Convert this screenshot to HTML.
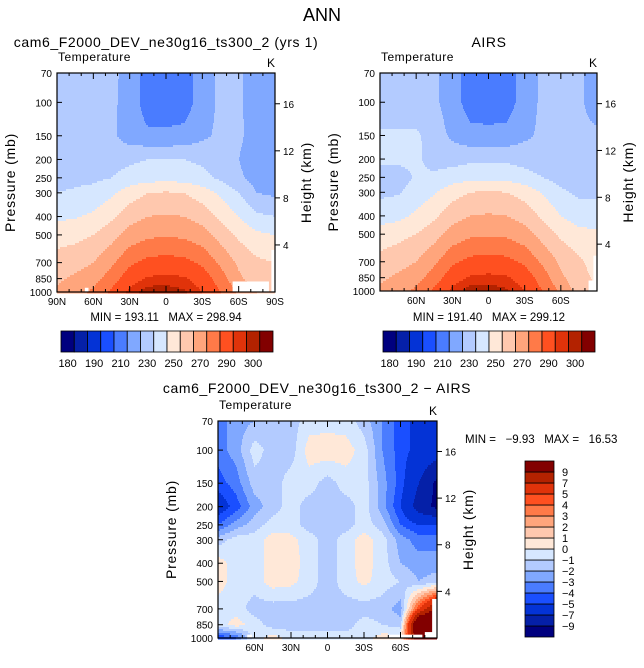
<!DOCTYPE html>
<html><head><meta charset="utf-8">
<style>
body{margin:0;background:#fff;}
svg text{font-family:"Liberation Sans",sans-serif;fill:#000;white-space:pre;}
</style></head>
<body>
<svg id="s" width="644" height="663" viewBox="0 0 644 663" xmlns="http://www.w3.org/2000/svg">
<text x="322" y="21" font-size="18" text-anchor="middle">ANN</text>
<text x="166" y="47" font-size="14" letter-spacing="0.6" text-anchor="middle">cam6_F2000_DEV_ne30g16_ts300_2 (yrs 1)</text>
<text x="489" y="47" font-size="14" letter-spacing="0.6" text-anchor="middle">AIRS</text>
<text x="317" y="393" font-size="14" letter-spacing="0.6" text-anchor="middle">cam6_F2000_DEV_ne30g16_ts300_2 − AIRS</text>
<g id="plots"></g>
</svg>
<script>
// ---- data ----
const lats = [90,75,60,45,30,15,0,-15,-30,-45,-60,-75,-90];
const pLevels = [70,100,150,200,250,300,400,500,700,850,1000];
const modelT = [
[222,222,222,222,217,205,203,205,215,222,222,214,214],
[222,222,222,222,216,205,204,205,215,222,222,214,214],
[222,222,222,222,215,212,212,213,218,222,222,215,213],
[225,225,225,226,228,230,230,230,228,224,220,214,214],
[228,228,228,230,234,236,236,236,233,228,222,216,216],
[230,231,233,238,245,250,251,250,245,238,230,220,218],
[238,239,242,248,256,260,261,260,256,248,240,232,230],
[246,247,250,256,264,268,269,268,264,256,248,242,240],
[254,256,260,268,278,283,284,283,278,268,258,252,250],
[258,262,266,275,286,291,292,291,286,275,262,255,253],
[262,266,272,282,292,298,298,296,290,280,268,260,258]];
const airsT = [
[222,222,222,222,215,205,203,205,215,222,222,222,215],
[222,222,222,222,215,205,204,205,215,222,222,222,215],
[232,232,232,225,218,213,213,213,218,222,222,222,222],
[232,232,232,226,226,228,228,228,226,224,223,223,223],
[226,226,231,232,235,237,237,237,234,230,226,225,225],
[228,229,234,239,246,250,251,250,246,239,232,228,228],
[235,237,242,248,256,260,261,260,256,248,240,235,235],
[245,247,250,256,264,268,269,268,264,256,248,243,242],
[253,256,260,268,278,283,284,283,278,268,258,252,245],
[258,262,266,275,286,291,292,291,286,275,262,254,248],
[262,266,272,282,292,298,298,296,290,280,268,255,250]];
const diffT = [
[-3.5,-2.5,-2,-1.5,-1.5,-0.5,-0.5,-0.5,-1.5,-3,-4.5,-5.5,-6],
[-3.5,-2.5,-0.5,-1.5,-1.5,0.5,0.7,0.5,-0.5,-3,-4.5,-5.5,-6],
[-4.5,-3.5,-1.5,-1.5,-0.5,-0.5,-1.5,-0.5,-0.5,-2.5,-4.5,-7,-9.5],
[-6,-4.5,-2.5,-1.5,-0.5,-1.5,-1.5,-1.5,-0.5,-2.5,-5,-8,-9.5],
[-4,-2.5,-1.5,-0.5,-0.5,-1.5,-1.5,-1.5,-0.5,-1.5,-4,-5,-5],
[-1.5,-0.5,-0.5,0.5,0.3,-0.5,-1.5,-0.5,0.5,-0.5,-2.5,-3.5,-3.5],
[0.5,-0.5,-0.5,0.5,0.5,-0.5,-1.5,-0.5,0.5,-0.5,-2,-2.5,-2.5],
[0.5,-0.5,-0.5,0.5,0.3,-0.5,-1.5,-0.5,0.3,-0.5,-1,-2,-1.5],
[-0.5,-0.5,-1.5,-1.5,-1.5,-1.5,-1.5,-1.5,-1.5,-1.5,-2.5,5,10],
[-0.5,0.5,-0.5,-1.5,-1.5,-1.5,-1.5,-1.5,-0.5,-1,-1.5,14,14],
[-5,-4,-0.5,0.5,-0.5,-0.5,-0.5,-0.5,-0.5,0.5,0.5,12,14]];
const tempLevels = [180,185,190,200,210,220,230,240,250,260,270,280,290,295,300];
const tempLabels = ["180","190","210","230","250","270","290","300"];
const diffLevels = [-9,-7,-5,-4,-3,-2,-1,0,1,2,3,4,5,7,9];
const diffLabels = ["9","7","5","4","3","2","1","0","−1","−2","−3","−4","−5","−7","−9"];
const pTicks = [70,100,150,200,250,300,400,500,700,850,1000];
const hTicks = [16,12,8,4];
const xTicksFull = ["90N","60N","30N","0","30S","60S","90S"];
const xTicksAirs = ["","60N","30N","0","30S","60S",""];
const colors = ["#00007f","#0520a8","#0433d6","#1a4fff","#4a7cff","#80a8ff","#b3cbff","#d6e7ff",
"#ffe8d8","#ffc8ae","#ffa57c","#ff7a48","#ff5020","#e0330a","#b32200","#820000"];

const S=document.getElementById('plots');
const NS='http://www.w3.org/2000/svg';
function mk(tag,attrs,parent){const e=document.createElementNS(NS,tag);for(const k in attrs)e.setAttribute(k,attrs[k]);(parent||S).appendChild(e);return e;}
function txt(x,y,s,size,anchor,parent){const t=mk('text',{x:x,y:y,'font-size':size,'text-anchor':anchor||'middle'},parent);t.textContent=s;return t;}
function levelIndex(v,lv){let i=0;while(i<lv.length&&v>=lv[i])i++;return i;}
const lp0=Math.log(70),lp1=Math.log(1000);
function sample(grid,latv,lpv){
  let fi=(90-latv)/15; fi=Math.max(0,Math.min(12,fi));
  let j=0; while(j<pLevels.length-2 && lpv>Math.log(pLevels[j+1])) j++;
  const a=Math.log(pLevels[j]),b=Math.log(pLevels[j+1]);
  let t=(lpv-a)/(b-a); t=Math.max(0,Math.min(1,t));
  const i=Math.min(11,Math.floor(fi)); const u=fi-i;
  const v0=grid[j][i]*(1-u)+grid[j][i+1]*u;
  const v1=grid[j+1][i]*(1-u)+grid[j+1][i+1]*u;
  return v0*(1-t)+v1*t;
}
function panel(o){
  const g=mk('g',{});
  
  
  const X0=o.x,Y0=o.y,W=o.w,H=o.h;
  const xs=lat=>X0+(90-lat)/180*W;
  const ys=p=>Y0+(Math.log(p)-lp0)/(lp1-lp0)*H;
  const fg=mk('g',{},g);
  
  
  const step=2;
  for(let y=0;y<H;y+=step){
    const lpv=lp0+(y+step/2)/H*(lp1-lp0);
    let runStart=0,runC=-1;
    for(let x=0;x<=W;x++){
      let c=-2;
      if(x<W){const lat=90-(x+0.5)/W*180;c=levelIndex(sample(o.grid,lat,lpv),o.levels);}
      if(c!==runC){
        if(runC>=0){const r=mk('rect',{x:X0+runStart,y:Y0+y,width:x-runStart,height:step+0.5,fill:colors[runC]},fg);
          
          }
        runC=c;runStart=x;
      }
    }
  }
  (o.missing||[]).forEach(m=>{const r=mk('rect',{x:xs(m[0]),y:ys(m[2]),width:xs(m[1])-xs(m[0]),height:ys(m[3])-ys(m[2]),fill:'#fff'},g);
    
    });
  const fr=mk('rect',{x:X0,y:Y0,width:W,height:H,fill:'none',stroke:'#000','stroke-width':1.2},g);
  
  
  pTicks.forEach(p=>{const y=ys(p);mk('line',{x1:X0,x2:X0+5,y1:y,y2:y,stroke:'#000'},g);
    const t=txt(X0-5,y+4,String(p),10,'end',g);
    
    });
  hTicks.forEach(h=>{const p=1000*Math.exp(-h/7);const y=ys(p);mk('line',{x1:X0+W,x2:X0+W+5,y1:y,y2:y,stroke:'#000'},g);
    const t=txt(X0+W+8,y+4,String(h),10,'start',g);
    
    });
  for(let k=0;k<=18;k++){const x=X0+k/18*W;const len=(k%3===0)?6:3;
    mk('line',{x1:x,x2:x,y1:Y0+H,y2:Y0+H-len,stroke:'#000'},g);
    mk('line',{x1:x,x2:x,y1:Y0,y2:Y0+len,stroke:'#000'},g);}
  o.xt.forEach((s,k)=>{if(!s)return;const t=txt(X0+k/6*W,Y0+H+13,s,10,'middle',g);
    
    });
  let t=txt(X0+1,Y0-12,'Temperature',12,'start',g);
  t.setAttribute('letter-spacing','0.5');
  
  
  t=txt(X0+W-4,Y0-6,'K',12,'middle',g);
  
  
  t=txt(0,0,'Pressure (mb)',14,'middle',g);
  t.setAttribute('transform',`translate(${o.pl},${Y0+H/2}) rotate(-90)`);t.setAttribute('fill','#444');
  t.setAttribute('letter-spacing','0.8');
  
  
  t=txt(0,0,'Height (km)',14,'middle',g);
  t.setAttribute('transform',`translate(${X0+W+36},${Y0+H/2}) rotate(-90)`);t.setAttribute('fill','#444');
  t.setAttribute('letter-spacing','0.8');
  
  
  if(o.minmax){t=txt(o.minmax[0],o.minmax[1],o.minmax[2],11.5,o.minmax[3]||'middle',g);
    
    }
}
function hbar(x,y,w,h){
  const g=mk('g',{});
  
  
  const bw=w/colors.length;
  colors.forEach((c,i)=>{const r=mk('rect',{x:x+i*bw,y:y,width:bw,height:h,fill:c,stroke:'#000','stroke-width':0.8},g);
    
    });
  tempLabels.forEach((s,k)=>{const t=txt(x+(2*k+0.5)*bw,y+h+15,s,11,'middle',g);
    
    });
}
function vbar(x,y,w,h){
  const g=mk('g',{});
  
  
  const bh=h/colors.length;
  colors.forEach((c,i)=>{const r=mk('rect',{x:x,y:y+h-(i+1)*bh,width:w,height:bh,fill:c,stroke:'#000','stroke-width':0.8},g);
    
    });
  diffLabels.forEach((s,k)=>{const t=txt(x+w+8,y+(k+1)*bh+4,s,11,'start',g);
    
    });
}
panel({name:'model-panel',x:57,y:73,w:218,h:219,grid:modelT,levels:tempLevels,xt:xTicksFull,pl:15,
  minmax:[166,321,'MIN = 193.11   MAX = 298.94'],
  missing:[[-55,-85,880,1000],[-87,-90,600,1000],[67,64,950,1000]]});
panel({name:'airs-panel',x:380,y:73,w:217,h:218,grid:airsT,levels:tempLevels,xt:xTicksAirs,pl:338,
  minmax:[489,321,'MIN = 191.40   MAX = 299.12'],
  missing:[[-87,-90,650,1000],[-83,-90,880,1000]]});
panel({name:'difference-panel',x:218,y:421,w:219,h:217,grid:diffT,levels:diffLevels,xt:xTicksAirs,pl:176,
  minmax:[465,443,'MIN =   −9.93   MAX =   16.53','start'],
  missing:[[66,62,960,1000],[-50,-78,960,1000],[-86,-90,620,1000],[-80,-90,930,1000]]});
hbar(61,331,212,21);
hbar(383,331,212,21);
vbar(525,461,29,176);
</script>
</body></html>
